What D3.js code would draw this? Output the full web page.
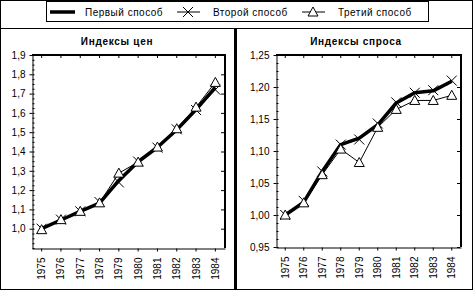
<!DOCTYPE html>
<html>
<head>
<meta charset="utf-8">
<script src="https://cdn.jsdelivr.net/npm/d3@7"></script>
<style>
  html, body { margin: 0; padding: 0; background: #fff; }
  svg { display: block; font-family: "Liberation Sans", Arial, sans-serif; }
</style>
</head>
<body>
<div id="chart"></div>
<script>
// данные
const years = ["1975","1976","1977","1978","1979","1980","1981","1982","1983","1984"];

const priceFirst  = [1.00, 1.045, 1.09, 1.132, 1.25, 1.347, 1.422, 1.513, 1.617, 1.732];
const priceSecond = [1.00, 1.047, 1.09, 1.138, 1.24, 1.348, 1.42, 1.515, 1.615, 1.72];
const priceThird  = [0.995, 1.047, 1.09, 1.134, 1.288, 1.345, 1.423, 1.518, 1.63, 1.758];

const demandFirst  = [1.00, 1.02, 1.068, 1.11, 1.12, 1.141, 1.175, 1.191, 1.194, 1.209];
const demandSecond = [1.00, 1.022, 1.068, 1.11, 1.118, 1.143, 1.176, 1.191, 1.195, 1.21];
const demandThird  = [1.00, 1.019, 1.063, 1.103, 1.082, 1.137, 1.165, 1.179, 1.179, 1.187];

const priceTicks  = [1.0, 1.1, 1.2, 1.3, 1.4, 1.5, 1.6, 1.7, 1.8, 1.9];
const demandTicks = [0.95, 1.00, 1.05, 1.10, 1.15, 1.20, 1.25];

const seriesNames = ["Первый способ", "Второй способ", "Третий способ"];

const W = 473, H = 290;
const svg = d3.select("#chart").append("svg").attr("width", W).attr("height", H);

// рамки
svg.append("rect").attr("x", 0.5).attr("y", 0.5).attr("width", W - 1).attr("height", H - 1)
  .attr("fill", "none").attr("stroke", "#000");
svg.append("line").attr("x1", 0).attr("x2", W).attr("y1", 28.5).attr("y2", 28.5).attr("stroke", "#000");
svg.append("line").attr("x1", 235.5).attr("x2", 235.5).attr("y1", 28).attr("y2", H).attr("stroke", "#000").attr("stroke-width", 3);

// маркеры
function crossPath(x, y) {
  const s = 5;
  return `M${x - s},${y - s}L${x + s},${y + s}M${x - s},${y + s}L${x + s},${y - s}`;
}
function triPath(x, y) {
  return `M${x},${y - 5}L${x + 5},${y + 4}L${x - 5},${y + 4}Z`;
}

// легенда
const legend = svg.append("g");
legend.append("rect").attr("x", 46.5).attr("y", 1.5).attr("width", 382).attr("height", 20)
  .attr("fill", "#fff").attr("stroke", "#000");
const ly = 12;
legend.append("line").attr("x1", 50).attr("x2", 75).attr("y1", ly).attr("y2", ly)
  .attr("stroke", "#000").attr("stroke-width", 3.5);
legend.append("line").attr("x1", 177).attr("x2", 200).attr("y1", ly).attr("y2", ly).attr("stroke", "#000");
legend.append("path").attr("d", crossPath(188, ly)).attr("stroke", "#000").attr("fill", "none");
legend.append("line").attr("x1", 302).attr("x2", 325).attr("y1", ly).attr("y2", ly).attr("stroke", "#000");
legend.append("path").attr("d", triPath(313, ly)).attr("stroke", "#000").attr("fill", "#fff");
[[85, seriesNames[0]], [213, seriesNames[1]], [338, seriesNames[2]]].forEach(([x, t]) => {
  legend.append("text").attr("x", x).attr("y", ly + 3.5).attr("font-size", 10)
    .attr("letter-spacing", 0.5).text(t);
});

function panel(opt) {
  const { left, right, top, bottom, domain, ticks, fmt, title, titleX, data } = opt;
  const g = svg.append("g");
  const x = d3.scaleBand().domain(years).range([left, right]);
  const y = d3.scaleLinear().domain(domain).range([bottom, top]);
  const cx = d => x(d) + x.bandwidth() / 2;

  g.append("text").attr("x", titleX).attr("y", 45).attr("text-anchor", "middle")
    .attr("font-size", 10).attr("font-weight", "bold").attr("letter-spacing", 0.7).text(title);

  // рамка области построения
  g.append("line").attr("x1", left).attr("x2", right + 1).attr("y1", top).attr("y2", top)
    .attr("stroke", "#000").attr("stroke-width", 2);
  g.append("line").attr("x1", right).attr("x2", right).attr("y1", top).attr("y2", bottom)
    .attr("stroke", "#000").attr("stroke-width", 2);

  // ось Y
  const step = ticks[1] - ticks[0];
  const minor = d3.range(domain[0], domain[1] + 1e-9, step / 4);
  g.append("g").attr("transform", `translate(${left + 0.5},0)`)
    .call(d3.axisLeft(y).tickValues(minor).tickSize(2).tickFormat(""))
    .call(a => a.select(".domain").remove())
    .selectAll(".tick line").attr("x2", 2).attr("x1", 0);
  g.append("g").attr("transform", `translate(${left + 0.5},0)`)
    .call(d3.axisLeft(y).tickValues(ticks).tickSize(3).tickPadding(4).tickFormat(fmt).tickSizeOuter(0))
    .call(a => a.selectAll("text").attr("font-size", 10).attr("font-family", "Liberation Sans, Arial, sans-serif").attr("fill", "#000"));
  // засечки справа
  g.append("g").attr("transform", `translate(${right - 1},0)`)
    .call(d3.axisLeft(y).tickValues(ticks).tickSize(3).tickFormat("").tickSizeOuter(0))
    .call(a => a.select(".domain").remove());

  // ось X
  g.append("g").attr("transform", `translate(0,${bottom + 0.5})`)
    .call(d3.axisBottom(x).tickSize(3).tickSizeOuter(0).tickPadding(6))
    .call(a => a.selectAll("text")
      .attr("font-size", 10).attr("font-family", "Liberation Sans, Arial, sans-serif").attr("fill", "#000")
      .attr("transform", "rotate(-90)").attr("text-anchor", "end")
      .attr("x", -9).attr("y", 0).attr("dy", "0.35em"));
  // засечки сверху
  g.append("g").attr("transform", `translate(0,${top + 1})`)
    .call(d3.axisTop(x).tickSize(-2).tickFormat("").tickSizeOuter(0))
    .call(a => a.select(".domain").remove());

  const line = d3.line().x((d, i) => cx(years[i])).y(d => y(d));

  g.append("path").datum(data[0]).attr("d", line).attr("fill", "none")
    .attr("stroke", "#000").attr("stroke-width", 3.5).attr("stroke-linejoin", "round");
  g.append("path").datum(data[1]).attr("d", line).attr("fill", "none").attr("stroke", "#000");
  g.append("g").selectAll("path").data(data[1]).join("path")
    .attr("d", (d, i) => crossPath(cx(years[i]), y(d))).attr("stroke", "#000").attr("fill", "none");
  g.append("path").datum(data[2]).attr("d", line).attr("fill", "none").attr("stroke", "#000");
  g.append("g").selectAll("path").data(data[2]).join("path")
    .attr("d", (d, i) => triPath(cx(years[i]), y(d))).attr("stroke", "#000").attr("fill", "#fff");
}

const comma = f => v => d3.format(f)(v).replace(".", ",");

panel({
  left: 32, right: 225, top: 55, bottom: 248, domain: [0.9, 1.9],
  ticks: priceTicks, fmt: comma(".1f"), title: "Индексы цен", titleX: 117,
  data: [priceFirst, priceSecond, priceThird]
});
panel({
  left: 276, right: 461, top: 55, bottom: 247, domain: [0.95, 1.25],
  ticks: demandTicks, fmt: comma(".2f"), title: "Индексы спроса", titleX: 356,
  data: [demandFirst, demandSecond, demandThird]
});
</script>
</body>
</html>
